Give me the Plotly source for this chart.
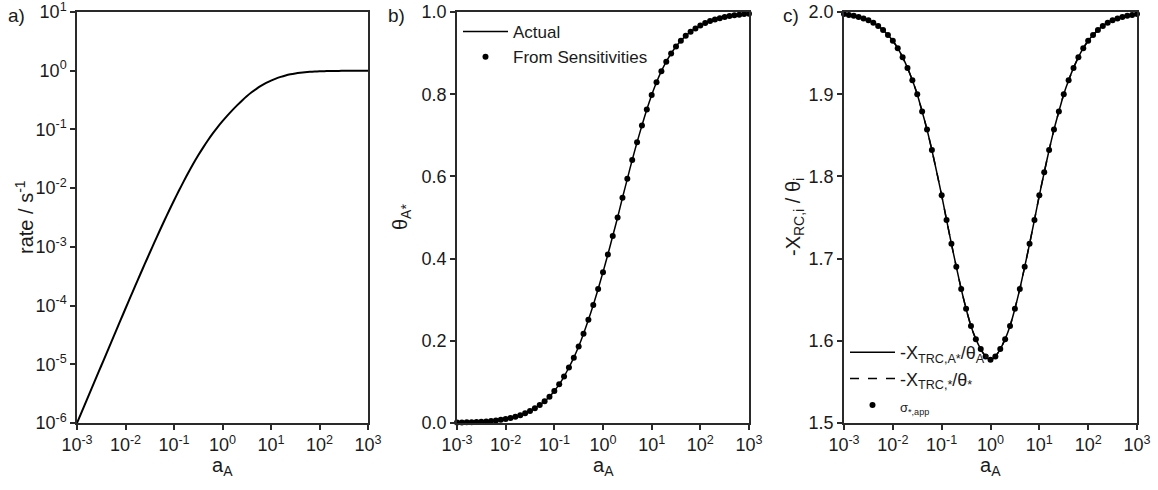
import plotly.graph_objects as go

# ---------------- data ----------------
a_exp = [-3.0, -2.9, -2.8, -2.7, -2.6, -2.5, -2.4, -2.3, -2.2, -2.1,
         -2.0, -1.9, -1.8, -1.7, -1.6, -1.5, -1.4, -1.3, -1.2, -1.1,
         -1.0, -0.9, -0.8, -0.7, -0.6, -0.5, -0.4, -0.3, -0.2, -0.1,
         0.0, 0.1, 0.2, 0.3, 0.4, 0.5, 0.6, 0.7, 0.8, 0.9,
         1.0, 1.1, 1.2, 1.3, 1.4, 1.5, 1.6, 1.7, 1.8, 1.9,
         2.0, 2.1, 2.2, 2.3, 2.4, 2.5, 2.6, 2.7, 2.8, 2.9, 3.0]

rate_log10 = [-6.0, -5.805, -5.61, -5.415, -5.22, -5.025, -4.83, -4.635, -4.44, -4.245,
              -4.05, -3.857, -3.665, -3.475, -3.287, -3.10, -2.916, -2.734, -2.555, -2.38,
              -2.21, -2.045, -1.885, -1.73, -1.58, -1.44, -1.31, -1.185, -1.068, -0.96,
              -0.86, -0.765, -0.675, -0.59, -0.51, -0.435, -0.368, -0.308, -0.255, -0.208,
              -0.168, -0.134, -0.105, -0.081, -0.062, -0.047, -0.035, -0.026, -0.019, -0.014,
              -0.010, -0.0075, -0.0055, -0.004, -0.003, -0.0022, -0.0016, -0.0012, -0.0009, -0.0007, -0.0005]

theta_actual = [0.001, 0.00126, 0.00158, 0.002, 0.0025, 0.0031, 0.0039, 0.0049, 0.0062, 0.0078,
                0.0097, 0.012, 0.015, 0.019, 0.024, 0.029, 0.036, 0.044, 0.053, 0.064,
                0.078, 0.094, 0.113, 0.135, 0.159, 0.186, 0.217, 0.251, 0.287, 0.326,
                0.367, 0.41, 0.455, 0.50, 0.548, 0.594, 0.64, 0.683, 0.724, 0.763,
                0.798, 0.829, 0.856, 0.879, 0.899, 0.916, 0.93, 0.942, 0.952, 0.96,
                0.967, 0.973, 0.978, 0.982, 0.985, 0.988, 0.990, 0.992, 0.9935, 0.995, 0.996]
theta_sens = list(theta_actual)

xtrc_A = [1.9975, 1.9965, 1.9955, 1.994, 1.992, 1.990, 1.987, 1.983, 1.978, 1.972,
          1.965, 1.956, 1.945, 1.932, 1.917, 1.900, 1.879, 1.857, 1.832, 1.805,
          1.777, 1.747, 1.718, 1.690, 1.663, 1.639, 1.618, 1.602, 1.590, 1.581,
          1.577, 1.581, 1.590, 1.602, 1.618, 1.639, 1.663, 1.690, 1.718, 1.747,
          1.777, 1.805, 1.832, 1.857, 1.879, 1.900, 1.917, 1.932, 1.945, 1.956,
          1.965, 1.972, 1.978, 1.983, 1.987, 1.990, 1.992, 1.994, 1.9955, 1.9965, 1.9975]
xtrc_star = list(xtrc_A)
sigma_app = [1.9975, 1.9965, 1.9955, 1.994, 1.992, 1.990, 1.987, 1.983, 1.978, 1.972,
             1.965, 1.956, 1.945, 1.932, 1.917, 1.900, 1.879, 1.857, 1.832, None,
             1.777, 1.747, 1.718, 1.690, 1.663, 1.639, 1.618, 1.602, 1.590, 1.581,
             1.577, 1.581, 1.590, 1.602, 1.618, 1.639, 1.663, 1.690, 1.718, 1.747,
             1.777, 1.805, 1.832, 1.857, 1.879, 1.900, 1.917, 1.932, 1.945, 1.956,
             1.965, 1.972, 1.978, 1.983, 1.987, 1.990, 1.992, 1.994, 1.9955, 1.9965, 1.9975]

x_tick_exp = [-3, -2, -1, 0, 1, 2, 3]
y_tick_exp_a = [-6, -5, -4, -3, -2, -1, 0, 1]
y_ticks_b = [0.0, 0.2, 0.4, 0.6, 0.8, 1.0]
y_ticks_c = [1.5, 1.6, 1.7, 1.8, 1.9, 2.0]

a_A = [10 ** e for e in a_exp]
rate = [10 ** v for v in rate_log10]

# ---------------- figure ----------------
W, H = 1158, 490
FONT = "Liberation Sans, Arial, sans-serif"
INK = "#1a1a1a"
AX = "#2a2a2a"


def px_x(p):
    return p / W


def px_y(p):
    return 1 - p / H


fig = go.Figure()

fig.add_trace(go.Scatter(x=a_A, y=rate, mode="lines",
                         line=dict(color="black", width=2, shape="spline", smoothing=0.6),
                         showlegend=False, xaxis="x", yaxis="y"))

fig.add_trace(go.Scatter(x=a_A, y=theta_actual, mode="lines", name="Actual",
                         line=dict(color="black", width=1.5, shape="spline", smoothing=0.5),
                         xaxis="x2", yaxis="y2", legend="legend"))
fig.add_trace(go.Scatter(x=a_A, y=theta_sens, mode="markers", name="From Sensitivities",
                         marker=dict(color="black", size=6), xaxis="x2", yaxis="y2",
                         cliponaxis=False, legend="legend"))

fig.add_trace(go.Scatter(x=a_A, y=xtrc_A, mode="lines",
                         name="-X<sub>TRC,A*</sub>/θ<sub>A*</sub>",
                         line=dict(color="black", width=1.5, shape="spline", smoothing=0.5),
                         xaxis="x3", yaxis="y3", legend="legend2"))
fig.add_trace(go.Scatter(x=a_A, y=xtrc_star, mode="lines",
                         name="-X<sub>TRC,*</sub>/θ<sub>*</sub>",
                         line=dict(color="black", width=1.5, dash="dash", shape="spline", smoothing=0.5),
                         xaxis="x3", yaxis="y3", legend="legend2"))
fig.add_trace(go.Scatter(x=a_A, y=sigma_app, mode="markers",
                         name="<span style='font-size:13px'>σ<sub>*,app</sub></span>",
                         marker=dict(color="black", size=6), xaxis="x3", yaxis="y3",
                         cliponaxis=False, legend="legend2"))

ydom = [px_y(423), px_y(12)]
common = dict(showline=True, mirror=True, linecolor=AX, linewidth=1.5, showgrid=False,
              zeroline=False, ticks="outside", ticklen=5, tickwidth=1.5, tickcolor=AX,
              automargin=False, ticklabeloverflow="allow",
              tickfont=dict(family=FONT, size=18, color=INK))

xt_vals = [10 ** e for e in x_tick_exp]
xt_text = ["10<sup>%d</sup>" % e for e in x_tick_exp]

doms = [(77, 368), (457, 749), (844, 1137)]
for i, (l, r) in enumerate(doms):
    key = "xaxis" if i == 0 else "xaxis%d" % (i + 1)
    anchor = "y" if i == 0 else "y%d" % (i + 1)
    fig.layout[key] = dict(common, type="log", range=[-3, 3], domain=[px_x(l), px_x(r)],
                           anchor=anchor, tickvals=xt_vals, ticktext=xt_text)

fig.layout["yaxis"] = dict(common, type="log", range=[-6, 1], domain=ydom, anchor="x",
                           tickvals=[10 ** e for e in y_tick_exp_a],
                           ticktext=["10<sup>%d</sup>" % e for e in y_tick_exp_a])
fig.layout["yaxis2"] = dict(common, range=[0, 1], domain=ydom, anchor="x2",
                            tickvals=y_ticks_b, ticktext=["%.1f" % v for v in y_ticks_b])
fig.layout["yaxis3"] = dict(common, range=[1.5, 2.0], domain=ydom, anchor="x3",
                            tickvals=y_ticks_c, ticktext=["%.1f" % v for v in y_ticks_c])

ann = []
# panel labels
for txt, x in [("a)", 6), ("b)", 386), ("c)", 781)]:
    ann.append(dict(text=txt, x=px_x(x), y=px_y(3), xref="paper", yref="paper",
                    xanchor="left", yanchor="top", showarrow=False,
                    font=dict(family=FONT, size=19, color=INK)))
# x titles
for (l, r) in doms:
    ann.append(dict(text="a<sub>A</sub>", x=px_x((l + r) / 2), y=px_y(481), xref="paper",
                    yref="paper", xanchor="center", yanchor="bottom", showarrow=False,
                    font=dict(family=FONT, size=20, color=INK)))
# y titles
for txt, x in [("rate / s<sup>-1</sup>", 24), ("θ<sub>A*</sub>", 401),
               ("-X<sub>RC,i</sub> / θ<sub>i</sub>", 794)]:
    ann.append(dict(text=txt, x=px_x(x), y=px_y(217), xref="paper", yref="paper",
                    xanchor="center", yanchor="middle", textangle=-90, showarrow=False,
                    font=dict(family=FONT, size=20, color=INK)))

fig.update_layout(
    width=W, height=H, margin=dict(l=0, r=0, t=0, b=0),
    paper_bgcolor="white", plot_bgcolor="white",
    font=dict(family=FONT, size=18, color=INK),
    annotations=ann,
    legend=dict(x=px_x(458), y=px_y(14), xanchor="left", yanchor="top",
                bgcolor="rgba(0,0,0,0)", font=dict(family=FONT, size=17, color=INK),
                itemwidth=45, tracegroupgap=0),
    legend2=dict(x=px_x(845), y=px_y(424), xanchor="left", yanchor="bottom",
                 bgcolor="rgba(0,0,0,0)", font=dict(family=FONT, size=18, color=INK),
                 itemwidth=45, tracegroupgap=0),
)

fig.write_html("out.html")
